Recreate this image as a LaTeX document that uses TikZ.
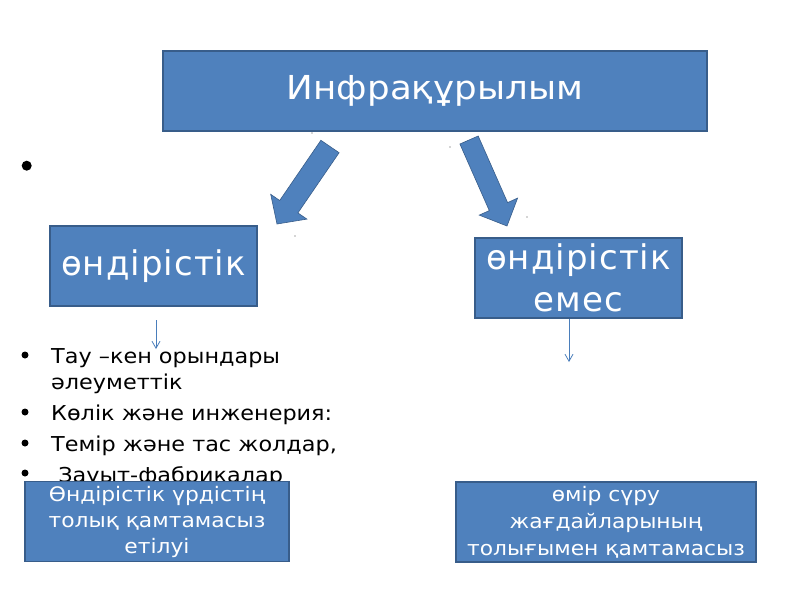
\documentclass[tikz,border=0pt]{standalone}
\usepackage{fontspec}
\setmainfont{DejaVu Sans}
\usetikzlibrary{arrows.meta}
\definecolor{boxfill}{HTML}{4F81BD}
\definecolor{boxline}{HTML}{385D8A}
\definecolor{thinline}{HTML}{4A7EBB}
\newfontfamily\topfont[FakeStretch=1.08]{DejaVu Sans}
\newfontfamily\midfont[LetterSpace=3]{DejaVu Sans}
\newfontfamily\listfont[FakeStretch=1.09]{DejaVu Sans}
\newfontfamily\botfont[FakeStretch=1.09]{DejaVu Sans}
\tikzset{
  bluebox/.style={draw=boxline, line width=1.5pt, fill=boxfill, text=white, inner sep=0pt, align=center},
  blockarrow/.style={draw=boxline, line width=0.6pt, fill=boxfill},
  thinarrow/.style={draw=thinline, line width=0.8pt, -{Straight Barb[length=7pt,width=8pt]}},
  listtext/.style={anchor=base west, inner sep=0pt, font=\listfont\fontsize{20.5}{24}\selectfont},
  listbullet/.style={fill=black, circle, inner sep=0pt, minimum size=7pt},
  speck/.style={fill=black!70, circle, inner sep=0pt, minimum size=1.2pt}
}
\begin{document}
\begin{tikzpicture}[x=1pt,y=-1pt]
\useasboundingbox[fill=white] (0,0) rectangle (800,600);

% top box
\node[bluebox, minimum width=544pt, minimum height=80pt, font=\topfont\fontsize{33}{40}\selectfont] (top) at (435,91) {Инфрақұрылым};

% block arrows
\draw[blockarrow] (339.1,152.7) -- (297.9,212.9) -- (306.9,219.1) -- (277,224) -- (270.7,194.3) -- (279.7,200.5) -- (320.9,140.3) -- cycle;
\draw[blockarrow] (478.2,136) -- (507.6,202.6) -- (517.6,198.1) -- (507,226) -- (479.2,215.1) -- (489.3,210.6) -- (459.9,144) -- cycle;

% specks
\node[speck] (s1) at (312,133) {};
\node[speck] (s2) at (450,147) {};
\node[speck] (s3) at (527,217) {};
\node[speck] (s4) at (295,236) {};

% big bullet
\node[fill=black, circle, inner sep=0pt, minimum size=10pt] (bigbullet) at (26.7,165.7) {};

% second level boxes
\node[bluebox, minimum width=207pt, minimum height=80pt, font=\midfont\fontsize{34}{42}\selectfont] (left) at (153.5,266) {өндірістік};
\node[bluebox, minimum width=207pt, minimum height=80pt, font=\midfont\fontsize{34}{42}\selectfont] (right) at (578.5,278) {өндірістік\\емес};

% thin arrows
\coordinate (la) at (156,320);
\coordinate (lb) at (156,349);
\coordinate (ra) at (569,318.8);
\coordinate (rb) at (569,362);
\draw[thinarrow] (la) -- (lb);
\draw[thinarrow] (ra) -- (rb);

% bullet list
\node[listbullet] (b1) at (25,355) {};
\node[listtext] (t1) at (51,363) {Тау –кен орындары};
\node[listtext] (t1b) at (51,389) {әлеуметтік};
\node[listbullet] (b2) at (25,412) {};
\node[listtext] (t2) at (51,420) {Көлік және инженерия:};
\node[listbullet] (b3) at (25,443) {};
\node[listtext] (t3) at (51,451) {Темір және тас жолдар,};
\node[listbullet] (b4) at (25,473) {};
\node[listtext] (t4) at (51,482) {\ Зауыт-фабрикалар};

% bottom boxes
\node[bluebox, minimum width=264pt, minimum height=80pt, font=\botfont\fontsize{20}{26}\selectfont] (bl) at (157,521.5) {Өндірістік үрдістің\\толық қамтамасыз\\етілуі};
\node[bluebox, minimum width=300pt, minimum height=80pt, font=\botfont\fontsize{20}{27}\selectfont] (br) at (606,522) {өмір сүру\\жағдайларының\\толығымен қамтамасыз};
\end{tikzpicture}
\end{document}
